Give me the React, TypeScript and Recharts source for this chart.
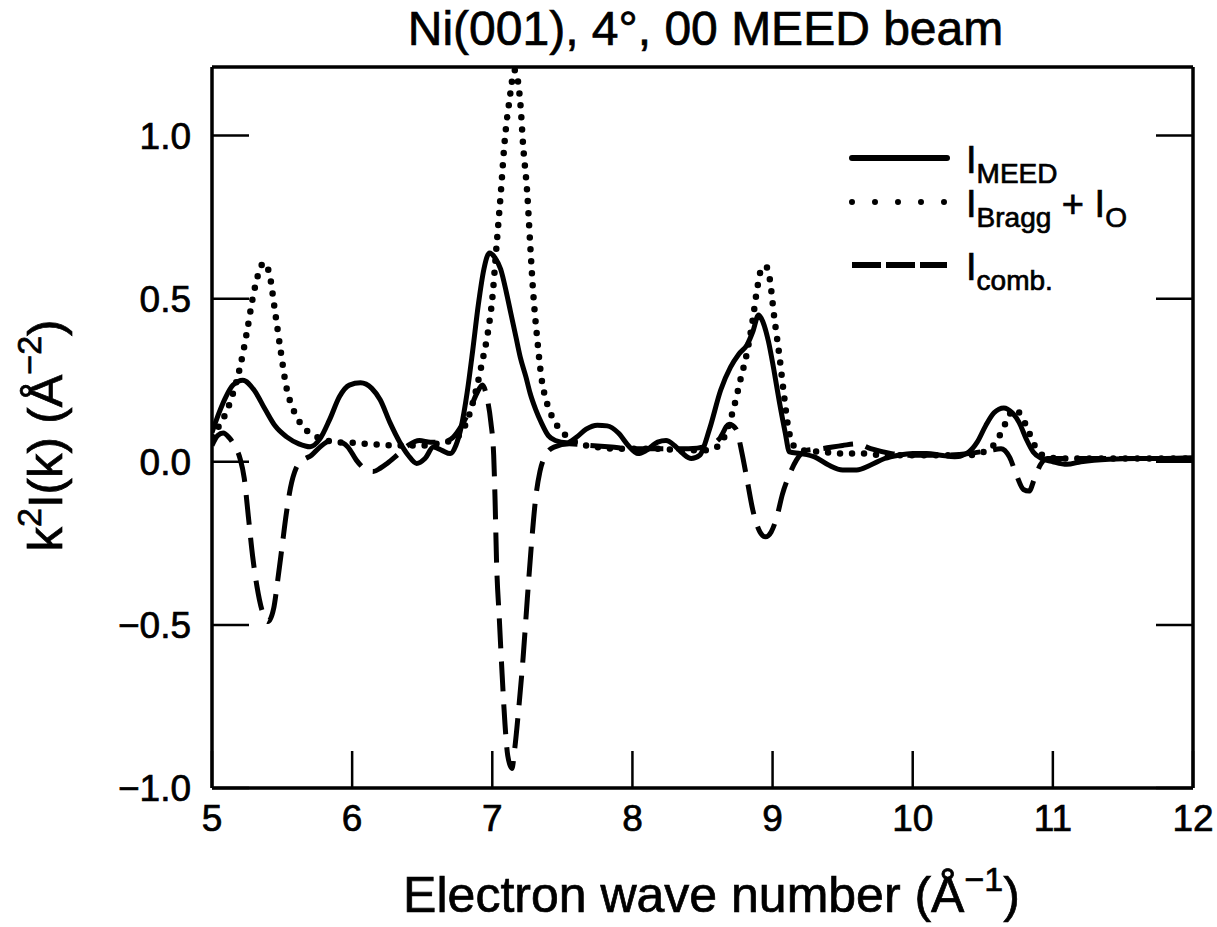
import { LineChart, Line, XAxis, YAxis, Legend } from "recharts"

const FONT = '"Liberation Sans", Arial, Helvetica, sans-serif'

// electron wave number k (1/Å) and k²I(k)
const meedK = [
  5.0, 5.05, 5.1, 5.15, 5.22, 5.3, 5.38, 5.45, 5.53, 5.62, 5.7, 5.77, 5.84, 5.91, 5.98, 6.06, 6.14, 6.2,
  6.27, 6.34, 6.4, 6.46, 6.52, 6.58, 6.64, 6.7, 6.74, 6.78, 6.82, 6.86, 6.9, 6.94, 6.98, 7.02, 7.06, 7.1,
  7.13, 7.17, 7.2, 7.24, 7.27, 7.31, 7.35, 7.4, 7.45, 7.53, 7.6, 7.67, 7.75, 7.82, 7.9, 7.97, 8.04, 8.1,
  8.18, 8.24, 8.3, 8.36, 8.42, 8.48, 8.55, 8.63, 8.7, 8.76, 8.82, 8.86, 8.9, 8.93, 8.97, 9.01, 9.05, 9.09,
  9.12, 9.2, 9.3, 9.4, 9.5, 9.6, 9.7, 9.8, 9.9, 10.0, 10.1, 10.2, 10.3, 10.4, 10.46, 10.52, 10.58, 10.65,
  10.71, 10.76, 10.81, 10.86, 10.92, 11.0, 11.1, 11.2, 11.4, 11.6, 11.8, 12.0,
]
const meedI = [
  0.09, 0.15, 0.2, 0.235, 0.25, 0.22, 0.16, 0.11, 0.077, 0.055, 0.046, 0.07, 0.13, 0.2, 0.235, 0.242, 0.225, 0.19,
  0.12, 0.06, 0.02, -0.005, 0.01, 0.045, 0.035, 0.025, 0.05, 0.11, 0.21, 0.34, 0.48, 0.59, 0.64, 0.625, 0.59, 0.52,
  0.46, 0.38, 0.32, 0.26, 0.21, 0.16, 0.12, 0.08, 0.065, 0.058, 0.075, 0.1, 0.112, 0.11, 0.088, 0.05, 0.025, 0.035,
  0.06, 0.065, 0.05, 0.025, 0.01, 0.02, 0.1, 0.22, 0.29, 0.33, 0.36, 0.4, 0.45, 0.43, 0.37, 0.28, 0.18, 0.09,
  0.03, 0.025, 0.015, -0.01, -0.025, -0.025, -0.01, 0.01, 0.02, 0.025, 0.025, 0.02, 0.015, 0.03, 0.06, 0.11, 0.15, 0.165,
  0.15, 0.12, 0.07, 0.03, 0.01, 0.0, -0.008, 0.0, 0.008, 0.01, 0.01, 0.012,
]

const braggK = [
  5.0, 5.05, 5.1, 5.15, 5.2, 5.25, 5.29, 5.33, 5.37, 5.41, 5.45, 5.49, 5.53, 5.58, 5.65, 5.73, 5.82, 5.9,
  6.0, 6.1, 6.2, 6.3, 6.4, 6.5, 6.6, 6.7, 6.78, 6.84, 6.89, 6.93, 6.97, 7.0, 7.03, 7.06, 7.09, 7.12, 7.16,
  7.2, 7.22, 7.25, 7.27, 7.29, 7.32, 7.35, 7.39, 7.43, 7.48, 7.54, 7.62, 7.75, 7.9, 8.05, 8.2, 8.35, 8.5,
  8.6, 8.66, 8.72, 8.77, 8.82, 8.86, 8.89, 8.92, 8.95, 8.98, 9.01, 9.05, 9.08, 9.11, 9.15, 9.22, 9.35, 9.5,
  9.65, 9.8, 10.0, 10.2, 10.4, 10.55, 10.62, 10.67, 10.72, 10.77, 10.82, 10.87, 10.93, 11.05, 11.5, 12.0,
]
const braggI = [
  0.077, 0.11, 0.15, 0.21, 0.29, 0.4, 0.5, 0.575, 0.61, 0.575, 0.46, 0.34, 0.23, 0.16, 0.107, 0.08, 0.065, 0.06,
  0.058, 0.055, 0.052, 0.05, 0.05, 0.05, 0.055, 0.065, 0.09, 0.15, 0.23, 0.31, 0.4, 0.5, 0.66, 0.82, 0.99, 1.1, 1.2,
  1.1, 0.97, 0.82, 0.67, 0.53, 0.38, 0.26, 0.18, 0.135, 0.1, 0.075, 0.055, 0.045, 0.04, 0.04, 0.04, 0.035, 0.035,
  0.045, 0.08, 0.16, 0.25, 0.34, 0.44, 0.53, 0.59, 0.6, 0.56, 0.45, 0.32, 0.21, 0.11, 0.05, 0.035, 0.03, 0.025,
  0.025, 0.02, 0.02, 0.02, 0.02, 0.04, 0.08, 0.125, 0.16, 0.145, 0.1, 0.05, 0.02, 0.01, 0.01, 0.01,
]

const combK = [
  5.0, 5.04, 5.08, 5.12, 5.16, 5.2, 5.23, 5.26, 5.29, 5.32, 5.36, 5.4, 5.44, 5.47, 5.5, 5.53, 5.56, 5.6,
  5.65, 5.71, 5.77, 5.85, 5.92, 5.97, 6.03, 6.09, 6.15, 6.2, 6.25, 6.32, 6.4, 6.48, 6.56, 6.64, 6.72, 6.78,
  6.84, 6.89, 6.93, 6.96, 6.99, 7.01, 7.02, 7.03, 7.05, 7.07, 7.09, 7.11, 7.14, 7.16, 7.19, 7.22, 7.25, 7.28,
  7.31, 7.34, 7.38, 7.44, 7.55, 7.7, 7.85, 8.0, 8.2, 8.4, 8.55, 8.62, 8.69, 8.74, 8.78, 8.82, 8.86, 8.91,
  8.95, 8.99, 9.03, 9.07, 9.12, 9.17, 9.24, 9.35, 9.5, 9.6, 9.7, 9.85, 10.0, 10.2, 10.4, 10.55, 10.63, 10.69,
  10.74, 10.79, 10.83, 10.87, 10.91, 10.96, 11.2, 11.6, 12.0,
]
const combI = [
  0.05, 0.08, 0.088, 0.075, 0.05, 0.01, -0.05, -0.17, -0.29, -0.38, -0.46, -0.49, -0.45, -0.36, -0.26, -0.16, -0.08, -0.02,
  0.005, 0.02, 0.045, 0.065, 0.06, 0.045, 0.005, -0.022, -0.03, -0.02, -0.005, 0.02, 0.05, 0.065, 0.06, 0.06, 0.075, 0.11,
  0.16, 0.21, 0.235, 0.2, 0.12, 0.02, -0.12, -0.3, -0.48, -0.65, -0.8, -0.9, -0.94, -0.88, -0.75, -0.6, -0.42, -0.25,
  -0.11, -0.03, 0.02, 0.045, 0.055, 0.05, 0.045, 0.04, 0.04, 0.04, 0.05, 0.07, 0.115, 0.1, 0.03, -0.06, -0.15, -0.215,
  -0.23, -0.215, -0.17, -0.1, -0.04, 0.005, 0.035, 0.04, 0.05, 0.055, 0.04, 0.025, 0.02, 0.02, 0.025, 0.035, 0.04, 0.015,
  -0.04, -0.085, -0.09, -0.05, -0.01, 0.01, 0.01, 0.01, 0.01,
]

const xTicks = [5, 6, 7, 8, 9, 10, 11, 12]
const yTicks = [-1, -0.5, 0, 0.5, 1]
const seriesOrder = ["meed", "bragg", "comb"]

const toPoints = (k: number[], v: number[]) => k.map((x, i) => ({ k: x, v: v[i] }))
const meed = toPoints(meedK, meedI)
const bragg = toPoints(braggK, braggI)
const comb = toPoints(combK, combI)

const TICK = 37
const fmtY = (v: number) => (v < 0 ? "\u2212" : "") + Math.abs(v).toFixed(1)
// the scanned lettering is heavier than plain Liberation Sans
const ink = { fill: "#000", stroke: "#000", strokeWidth: 0.7, fontFamily: FONT }

function LeftTick({ x, y, payload }: any) {
  return (
    <g>
      <line x1={x} x2={x + TICK} y1={y} y2={y} stroke="#000" strokeWidth={2.5} />
      <text x={x - 21} y={y + 13} textAnchor="end" fontSize={37} {...ink}>
        {fmtY(payload.value)}
      </text>
    </g>
  )
}

function BottomTick({ x, y, payload }: any) {
  return (
    <g>
      <line x1={x} x2={x} y1={y} y2={y - TICK} stroke="#000" strokeWidth={2.5} />
      <text x={x} y={y + 43} textAnchor="middle" fontSize={37} {...ink}>
        {payload.value}
      </text>
    </g>
  )
}

const TopTick = ({ x, y }: any) => <line x1={x} x2={x} y1={y} y2={y + TICK} stroke="#000" strokeWidth={2.5} />
const RightTick = ({ x, y }: any) => <line x1={x} x2={x - TICK} y1={y} y2={y} stroke="#000" strokeWidth={2.5} />

function TitleLabel({ viewBox }: any) {
  return (
    <text x={viewBox.x + viewBox.width / 2 + 3} y={45} textAnchor="middle" fontSize={48} {...ink}>
      Ni(001), 4°, 00 MEED beam
    </text>
  )
}

function XTitle({ viewBox }: any) {
  return (
    <text x={viewBox.x + viewBox.width / 2 + 9} y={viewBox.y + 124} textAnchor="middle" fontSize={50} {...ink}>
      Electron wave number (Å
      <tspan dy={-21} fontSize={34}>{"\u22121"}</tspan>
      <tspan dy={21}>)</tspan>
    </text>
  )
}

function YTitle({ viewBox }: any) {
  const cx = 62
  const cy = viewBox.y + viewBox.height / 2 + 8
  return (
    <text x={cx} y={cy} transform={`rotate(-90, ${cx}, ${cy})`} textAnchor="middle" fontSize={49} {...ink}>
      k<tspan dy={-21} fontSize={34}>2</tspan>
      <tspan dy={21}>I(k) (Å</tspan>
      <tspan dy={-21} fontSize={34}>{"\u22122"}</tspan>
      <tspan dy={21}>)</tspan>
    </text>
  )
}

const legendText: Record<string, JSX.Element> = {
  meed: (
    <>
      I<tspan dy={10} fontSize={28}>MEED</tspan>
    </>
  ),
  bragg: (
    <>
      I<tspan dy={10} fontSize={28}>Bragg</tspan>
      <tspan dy={-10}> + I</tspan>
      <tspan dy={10} fontSize={28}>O</tspan>
    </>
  ),
  comb: (
    <>
      I<tspan dy={10} fontSize={28}>comb.</tspan>
    </>
  ),
}
const legendRowY = [28, 72, 135]
const legendDash: Record<string, string | undefined> = { meed: undefined, bragg: "0 23", comb: "29 5" }

function LegendBox({ payload }: any) {
  const items = [...(payload || [])].sort(
    (a: any, b: any) => seriesOrder.indexOf(a.value) - seriesOrder.indexOf(b.value)
  )
  return (
    <svg width={340} height={175} style={{ display: "block" }}>
      {items.map((p: any, i: number) => {
        const y = legendRowY[i]
        return (
          <g key={p.value}>
            <line
              x1={12}
              x2={p.value === "bragg" ? 105 : 107}
              y1={y}
              y2={y}
              stroke="#000"
              strokeWidth={6}
              strokeLinecap={p.value === "comb" ? "butt" : "round"}
              strokeDasharray={legendDash[p.value]}
            />
            <text x={126} y={y + 15} fontSize={38} {...ink}>
              {legendText[p.value]}
            </text>
          </g>
        )
      })}
    </svg>
  )
}

export default function App() {
  return (
    <div style={{ position: "absolute", left: 0, top: 0, width: 1217, height: 927, background: "#fff" }}>
      <LineChart width={1217} height={927} margin={{ top: 66, right: 23, bottom: 0, left: 0 }}>
        <XAxis
          dataKey="k"
          type="number"
          domain={[5, 12]}
          ticks={xTicks}
          interval={0}
          height={139}
          tickSize={0}
          tickMargin={0}
          tickLine={false}
          allowDataOverflow
          axisLine={{ stroke: "#000", strokeWidth: 3.5 }}
          tick={(p: any) => <BottomTick {...p} />}
          label={{ content: XTitle }}
        />
        <XAxis
          xAxisId="top"
          orientation="top"
          type="number"
          domain={[5, 12]}
          ticks={xTicks}
          interval={0}
          height={1}
          tickSize={0}
          tickMargin={0}
          tickLine={false}
          allowDataOverflow
          axisLine={{ stroke: "#000", strokeWidth: 3.5 }}
          tick={(p: any) => <TopTick {...p} />}
          label={{ content: TitleLabel }}
        />
        <YAxis
          type="number"
          domain={[-1, 1.21]}
          ticks={yTicks}
          interval={0}
          width={212}
          tickSize={0}
          tickMargin={0}
          tickLine={false}
          allowDataOverflow
          axisLine={{ stroke: "#000", strokeWidth: 3.5 }}
          tick={(p: any) => <LeftTick {...p} />}
          label={{ content: YTitle }}
        />
        <YAxis
          yAxisId="right"
          orientation="right"
          type="number"
          domain={[-1, 1.21]}
          ticks={yTicks}
          interval={0}
          width={1}
          tickSize={0}
          tickMargin={0}
          tickLine={false}
          allowDataOverflow
          axisLine={{ stroke: "#000", strokeWidth: 3.5 }}
          tick={(p: any) => <RightTick {...p} />}
        />
        <Line
          data={meed}
          dataKey="v"
          name="meed"
          type="monotone"
          stroke="#000"
          strokeWidth={5}
          dot={false}
          activeDot={false}
          isAnimationActive={false}
        />
        <Line
          data={bragg}
          dataKey="v"
          name="bragg"
          type="monotone"
          stroke="#000"
          strokeWidth={6.5}
          strokeDasharray="0 12"
          strokeLinecap="round"
          dot={false}
          activeDot={false}
          isAnimationActive={false}
        />
        <Line
          data={comb}
          dataKey="v"
          name="comb"
          type="monotone"
          stroke="#000"
          strokeWidth={5}
          strokeDasharray="30 13"
          dot={false}
          activeDot={false}
          isAnimationActive={false}
        />
        <Legend
          layout="vertical"
          align="center"
          verticalAlign="middle"
          content={LegendBox}
          wrapperStyle={{ left: 840, top: 130, width: 340, height: 175 }}
        />
      </LineChart>
    </div>
  )
}
